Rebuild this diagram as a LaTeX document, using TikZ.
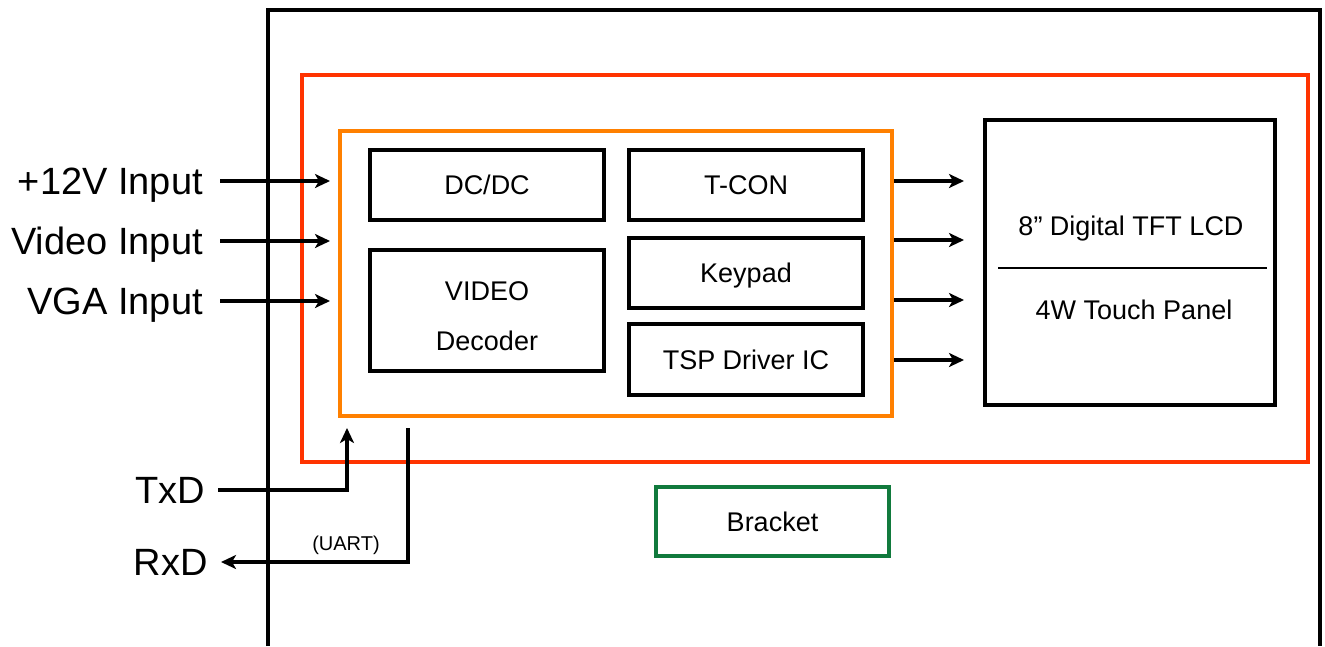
\documentclass[tikz,border=0pt]{standalone}
\usepackage{fontspec}
\setmainfont{Liberation Sans}
\usetikzlibrary{positioning, arrows.meta, calc}
\definecolor{bdred}{HTML}{FF3300}
\definecolor{bdorange}{HTML}{FF8000}
\definecolor{bdgreen}{HTML}{117A3D}

\begin{document}
\begin{tikzpicture}[x=1pt, y=-1pt,
    blk/.style={draw=black, line width=3.5pt, minimum width=234pt, minimum height=70pt,
                inner sep=0pt, align=center, text height=19pt, text depth=0pt,
                font=\fontsize{27}{50}\selectfont},
    sig/.style={anchor=east, inner ysep=0pt, inner xsep=17pt, text height=27pt, text depth=0pt,
                font=\fontsize{38}{44}\selectfont},
    wire/.style={line width=4pt, -{Stealth[length=15pt, width=14pt, inset=4pt]}}]
  \useasboundingbox (0,0) rectangle (1325,646);

  % housing and boards
  \draw[line width=4pt] (268,646) -- (268,10) -- (1320,10) -- (1320,646);
  \node[draw=bdred, line width=4pt, minimum width=1006pt, minimum height=387pt] (board) at (805,268.5) {};
  \node[draw=bdorange, line width=4pt, minimum width=552pt, minimum height=285pt] (core) at (616,273.5) {};

  % blocks on the board
  \node[blk] (dcdc) at (487,185) {DC/DC};
  \node[blk, minimum height=121pt, text height=80pt, text depth=0pt] (dec) at (487,310.5) {VIDEO\\Decoder};
  \node[blk] (tcon) at (746,185) {T-CON};
  \node[blk] (keys) at (746,273) {Keypad};
  \node[blk, minimum height=71pt] (tsp) at (746,359.5) {TSP Driver IC};

  % panel
  \node[draw=black, line width=4pt, minimum width=290pt, minimum height=285pt] (lcd) at (1130,262.5) {};
  \node[font=\fontsize{27}{32}\selectfont, text height=19pt, text depth=0pt] (tft) at (1131,226) {8” Digital TFT LCD};
  \node[font=\fontsize{27}{32}\selectfont, text height=19pt, text depth=0pt] (touch) at (1134,310) {4W Touch Panel};
  \draw[line width=1.8pt] ([xshift=15pt]lcd.west |- 0,268) -- ([xshift=-10pt]lcd.east |- 0,268);

  \node[blk, draw=bdgreen, minimum width=233pt, minimum height=69pt] (brk) at (772.5,521.5) {Bracket};

  % inputs
  \node[sig] (pwr) at (220,181) {+12V Input};
  \node[sig] (vid) at (220,241) {Video Input};
  \node[sig] (vga) at (220,301) {VGA Input};
  \foreach \n in {pwr, vid, vga}
    \draw[wire, shorten >=8pt] (\n) -- (\n -| core.west);

  % outputs to the panel
  \foreach \y in {181, 240, 300, 360}
    \draw[wire, shorten >=19pt] (core.east |- 0,\y) -- (lcd.west |- 0,\y);

  % serial port
  \node[sig, inner xsep=13pt] (txd) at (218,490) {TxD};
  \node[sig, inner xsep=13pt] (rxd) at (221,562) {RxD};
  \draw[wire, shorten >=10pt] (txd) -| (core.south -| 347,0);
  \draw[wire, shorten <=10pt] (core.south -| 408,0) |- (rxd);
  \node[font=\fontsize{20}{24}\selectfont] (uart) at (346,545) {(UART)};
\end{tikzpicture}
\end{document}
